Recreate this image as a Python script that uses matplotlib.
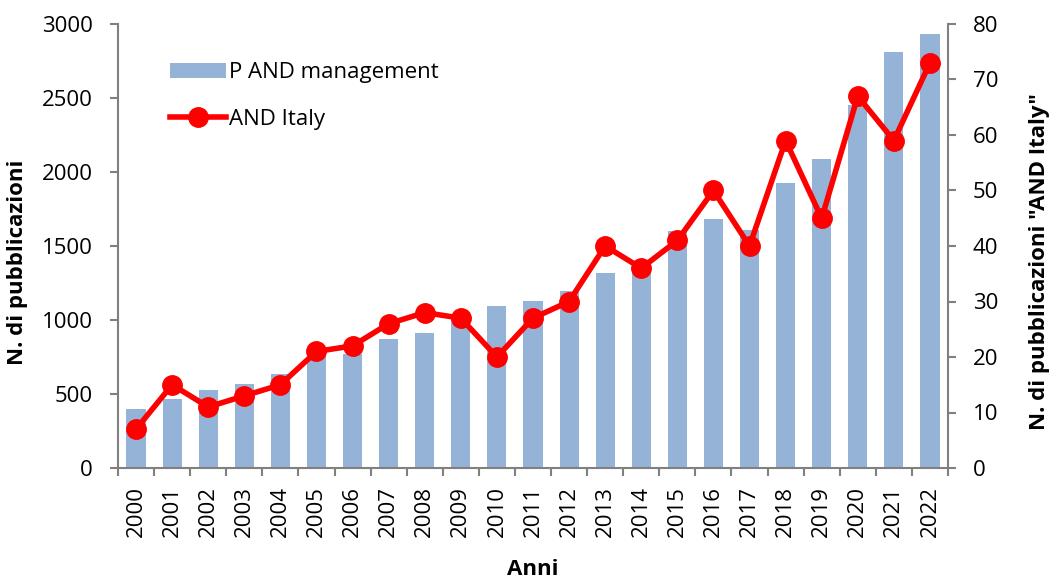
import matplotlib
matplotlib.use("Agg")
import matplotlib.pyplot as plt
from matplotlib.ticker import MultipleLocator, FixedLocator

years = [str(y) for y in range(2000, 2023)]
management = [400, 465, 530, 570, 635, 760, 770, 875, 915, 1000, 1095, 1130,
              1195, 1320, 1350, 1600, 1680, 1610, 1925, 2090, 2450, 2810, 2935]
italy = [7, 15, 11, 13, 15, 21, 22, 26, 28, 27, 20, 27,
         30, 40, 36, 41, 50, 40, 59, 45, 67, 59, 73]

plt.rcParams['font.family'] = ['Open Sans', 'DejaVu Sans']
FS = 16
fig = plt.figure(figsize=(10.49, 5.84), dpi=100)
ax = fig.add_axes([118/1049, 1-468/584, (948-118)/1049, (468-24)/584])
ax2 = ax.twinx()

x = list(range(len(years)))
bars = ax.bar(x, management, width=0.53, color='#95B3D7', label='P AND management', zorder=2)
line, = ax2.plot(x, italy, color='#FF0000', lw=4, marker='o', ms=14,
                 label='AND Italy', zorder=3)

ax.set_xlim(-0.5, len(years)-0.5)
ax.set_ylim(0, 3000)
ax2.set_ylim(0, 80)
ax.yaxis.set_major_locator(MultipleLocator(500))
ax2.yaxis.set_major_locator(MultipleLocator(10))
ax.set_xticks(x)
ax.set_xticklabels(years, rotation=90, fontsize=FS)
ax.xaxis.set_minor_locator(FixedLocator([i-0.5 for i in range(len(years)+1)]))
ax.tick_params(axis='x', which='major', length=0, pad=13)
ax.tick_params(axis='x', which='minor', length=6, width=1.5, color='#808080', direction='out')
ax.tick_params(axis='y', labelsize=FS, length=6, width=1.5, color='#808080', direction='out', pad=12)
ax2.tick_params(axis='y', labelsize=FS, length=6, width=1.5, color='#808080', direction='out', pad=12)

for a in (ax, ax2):
    a.spines['top'].set_visible(False)
    for s in ('left', 'right', 'bottom'):
        a.spines[s].set_color('#808080')
        a.spines[s].set_linewidth(1.5)
ax.spines['right'].set_visible(False)
ax2.spines['left'].set_visible(False)
ax2.spines['bottom'].set_visible(False)

ax.set_ylabel('N. di pubblicazioni', fontsize=FS, fontweight='bold')
ax.yaxis.set_label_coords(-0.109, 0.464)
ax2.set_ylabel('N. di pubblicazioni "AND Italy"', fontsize=FS, fontweight='bold')
ax2.yaxis.set_label_coords(1.098, 0.464)
ax.set_xlabel('Anni', fontsize=FS, fontweight='bold')
ax.xaxis.set_label_coords(0.5, -0.205)

ax.set_zorder(1)
ax2.set_zorder(2)
ax.patch.set_visible(False)

leg = ax2.legend([bars, line], ['P AND management', 'AND Italy'], loc='upper left',
                 bbox_to_anchor=(0.063, 0.914), frameon=False, fontsize=FS,
                 labelspacing=1.17, handlelength=2.5, handletextpad=0.15,
                 borderpad=0, borderaxespad=0)

fig.savefig('out.png', dpi=100)
